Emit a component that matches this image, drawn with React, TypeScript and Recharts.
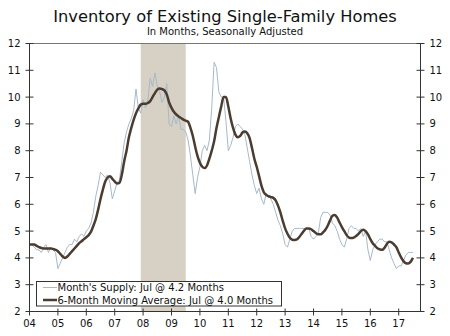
import React from 'react';
import { LineChart, Line, XAxis, YAxis, ReferenceArea, ReferenceLine } from 'recharts';

const yearLabels = ['04', '05', '06', '07', '08', '09', '10', '11', '12', '13', '14', '15', '16', '17'];
const yTicks = [2, 3, 4, 5, 6, 7, 8, 9, 10, 11, 12];

// Month's supply, Jan 2004 - Jul 2017
const monthsSupply = [
  4.5, 4.5, 4.4, 4.3, 4.3, 4.2, 4.4, 4.5, 4.2, 4.4, 4.3, 4.2,
  3.6, 3.8, 4.0, 4.2, 4.4, 4.5, 4.5, 4.7, 4.6, 4.8, 4.9, 4.8,
  5.0, 5.1, 5.3, 5.7, 6.3, 6.7, 7.2, 7.1, 7.0, 7.1, 6.8, 6.2,
  6.5, 6.8, 6.9, 7.6, 8.3, 8.7, 9.0, 9.2, 9.5, 10.3, 9.6, 9.4,
  9.9, 9.6, 9.9, 10.7, 10.4, 10.9, 10.4, 10.2, 9.8, 10.0, 10.5, 9.0,
  8.9, 9.3, 9.0, 9.3, 8.8, 8.8, 8.7, 8.4, 7.8, 7.1, 6.4, 7.0,
  7.4, 8.0, 8.2, 8.0, 8.4, 9.6, 11.3, 11.1, 10.2, 10.0, 10.0, 9.1,
  8.0, 8.2, 8.5, 8.9, 9.0, 8.9, 8.8, 8.6, 8.1, 7.6, 7.1, 6.7,
  6.4, 6.6, 6.2, 6.0, 6.4, 6.3, 6.2, 6.0, 5.7, 5.4, 5.2, 4.9,
  4.5, 4.4, 4.7, 5.0, 5.1, 5.1, 5.1, 5.1, 5.1, 5.1, 5.1, 4.8,
  4.7, 4.8, 4.9, 5.5, 5.7, 5.7, 5.7, 5.6, 5.3, 5.2, 5.0, 4.7,
  4.5, 4.4, 4.7, 5.1, 5.2, 5.1, 5.1, 5.0, 5.1, 4.8, 5.0, 4.3,
  3.9, 4.3, 4.5, 4.6, 4.7, 4.7, 4.6, 4.6, 4.3, 4.0, 3.8, 3.6,
  3.7, 3.7, 3.9, 4.1, 4.2, 4.2, 4.2,
];

// 6-month moving average, Jan 2004 - Jul 2017
const movingAverage = [
  4.5, 4.5, 4.5, 4.45, 4.4, 4.37, 4.35, 4.35, 4.35, 4.35, 4.33, 4.3,
  4.25, 4.15, 4.05, 4.0, 4.05, 4.15, 4.25, 4.35, 4.45, 4.55, 4.62, 4.7,
  4.77, 4.85, 4.98, 5.2, 5.45, 5.8, 6.2, 6.55, 6.85, 7.0, 7.05, 6.95,
  6.85, 6.78, 6.8, 7.1, 7.6, 8.0, 8.5, 8.85, 9.15, 9.4, 9.58, 9.72,
  9.75, 9.75, 9.78, 9.85, 10.0, 10.15, 10.28, 10.32, 10.3, 10.25, 10.1, 9.8,
  9.6, 9.45, 9.35, 9.28, 9.22, 9.16, 9.12, 9.08, 8.85, 8.55, 8.15, 7.8,
  7.55, 7.4, 7.35, 7.45, 7.7, 8.0, 8.35, 8.85, 9.25, 9.65, 10.0, 10.0,
  9.65, 9.2, 8.85, 8.6, 8.5, 8.55, 8.68, 8.72, 8.65, 8.47, 8.1, 7.7,
  7.4, 7.05, 6.7, 6.45, 6.35, 6.3, 6.27, 6.24, 6.15, 5.95, 5.7, 5.38,
  5.1, 4.9, 4.75, 4.68, 4.67, 4.69, 4.78, 4.9, 5.02, 5.1, 5.1, 5.07,
  5.0, 4.93, 4.88, 4.88, 4.95, 5.05, 5.2, 5.4, 5.57, 5.6, 5.5, 5.32,
  5.15, 5.0, 4.85, 4.76, 4.74, 4.76, 4.82, 4.9, 5.0, 5.05, 5.0, 4.88,
  4.7, 4.55, 4.45, 4.36, 4.32, 4.3, 4.38, 4.52, 4.6, 4.58, 4.5, 4.4,
  4.2, 4.02, 3.88, 3.8, 3.79, 3.85, 4.0,
];

// Recession (Dec 2007 - Jun 2009), months since Jan 2004
const recessionStart = 47;
const recessionEnd = 66;

const legendSupply = "Month's Supply: Jul @ 4.2 Months";
const legendAverage = '6-Month Moving Average: Jul @ 4.0 Months';

const data = monthsSupply.map((v, i) => ({ m: i, supply: v, ma: movingAverage[i] }));
const xTicks = yearLabels.map((_, i) => i * 12);

const FONT = '"DejaVu Sans", Verdana, sans-serif';
const AXIS = '#333';
const LIGHT = '#a7b8ca';
const DARK = '#4a3c31';
const SHADE = '#d6d1c4';
const TXT = '#111';

const XTick = (props: any) => {
  const { x, y, payload } = props;
  const label = yearLabels[Math.round(payload.value / 12)];
  return (
    <g>
      <line x1={x} x2={x} y1={y - 3} y2={y + 4} stroke={AXIS} />
      <text x={x} y={y + 15.5} textAnchor="middle" fontSize={10} fontFamily={FONT} fill={TXT}>{label}</text>
    </g>
  );
};

const YTickLeft = (props: any) => {
  const { x, y, payload } = props;
  return (
    <g>
      <line x1={x - 4} x2={x + 4} y1={y} y2={y} stroke={AXIS} />
      <text x={x - 9} y={y + 3.5} textAnchor="end" fontSize={10} fontFamily={FONT} fill={TXT}>{payload.value}</text>
    </g>
  );
};

const YTickRight = (props: any) => {
  const { x, y, payload } = props;
  return (
    <g>
      <line x1={x - 4} x2={x + 4} y1={y} y2={y} stroke={AXIS} />
      <text x={x + 9} y={y + 3.5} textAnchor="start" fontSize={10} fontFamily={FONT} fill={TXT}>{payload.value}</text>
    </g>
  );
};

export default function App() {
  return (
    <div style={{ position: 'absolute', left: 0, top: 0, width: 450, height: 336, background: '#fff' }}>
      <LineChart
        width={450}
        height={336}
        data={data}
        margin={{ top: 43.5, right: 0.5, left: 0.5, bottom: 0 }}
      >
        <XAxis
          dataKey="m"
          type="number"
          domain={[0, 165.2]}
          ticks={xTicks}
          tick={XTick}
          tickLine={false}
          tickSize={0}
          tickMargin={0}
          height={24.5}
          axisLine={{ stroke: AXIS }}
          allowDataOverflow
          interval={0}
        />
        <YAxis
          yAxisId="left"
          type="number"
          domain={[2, 12]}
          ticks={yTicks}
          tick={YTickLeft}
          tickLine={false}
          tickSize={0}
          tickMargin={0}
          width={29}
          axisLine={{ stroke: AXIS }}
          interval={0}
        />
        <YAxis
          yAxisId="right"
          orientation="right"
          type="number"
          domain={[2, 12]}
          ticks={yTicks}
          tick={YTickRight}
          tickLine={false}
          tickSize={0}
          tickMargin={0}
          width={29}
          axisLine={{ stroke: AXIS }}
          interval={0}
        />
        <ReferenceArea
          yAxisId="left"
          x1={recessionStart}
          x2={recessionEnd}
          y1={2}
          y2={12}
          fill={SHADE}
          fillOpacity={1}
          stroke="none"
          ifOverflow="hidden"
        />
        <ReferenceLine yAxisId="left" y={12} stroke="#777" strokeWidth={1} />
        <Line
          yAxisId="left"
          type="linear"
          dataKey="supply"
          stroke={LIGHT}
          strokeWidth={1}
          dot={false}
          isAnimationActive={false}
        />
        <Line
          yAxisId="right"
          type="monotone"
          dataKey="ma"
          stroke={DARK}
          strokeWidth={2.5}
          dot={false}
          isAnimationActive={false}
        />
      </LineChart>
      <svg
        width={450}
        height={336}
        style={{ position: 'absolute', left: 0, top: 0, pointerEvents: 'none' }}
      >
        <text x={225} y={22} textAnchor="middle" fontSize={16.3} fontFamily={FONT} fill={TXT}>
          Inventory of Existing Single-Family Homes
        </text>
        <text x={225} y={35} textAnchor="middle" fontSize={10} fontFamily={FONT} fill={TXT}>
          In Months, Seasonally Adjusted
        </text>
        <rect x={36.5} y={281.5} width={245} height={24.5} fill="#fff" stroke={AXIS} strokeWidth={1} />
        <line x1={43} x2={57} y1={287.5} y2={287.5} stroke={LIGHT} strokeWidth={1} />
        <text x={57.5} y={291} fontSize={10} fontFamily={FONT} fill={TXT}>{legendSupply}</text>
        <line x1={43} x2={57} y1={300} y2={300} stroke={DARK} strokeWidth={2.5} />
        <text x={57.5} y={303.5} fontSize={10} fontFamily={FONT} fill={TXT}>{legendAverage}</text>
      </svg>
    </div>
  );
}
